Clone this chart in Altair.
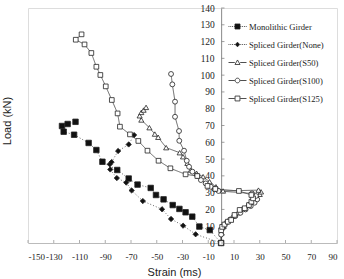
import altair as alt
import pandas as pd

# ---------------- data ----------------
series_names = ["Monolithic Girder", "Spliced Girder(None)", "Spliced Girder(S50)",
                "Spliced Girder(S100)", "Spliced Girder(S125)"]

mono_x = [0, -8.8, -16.9, -22.4, -27.6, -32.4, -37.6, -44.7, -50.6, -54.7, -64.9, -71.8,
          -80.7, -92.2, -96.9, -102.9, -114.2, -122.3, -123.6, -119.2, -113.1]
mono_y = [0, 7.7, 9.8, 15.7, 18.3, 20.3, 22.6, 26.0, 28.6, 32.8, 34.8, 38.4,
          43.5, 48.4, 55.4, 59.6, 64.5, 66.3, 69.7, 70.9, 72.2]

none_x = [0, -19.8, -29.5, -38.9, -45.9, -60.8, -69.5, -73.7, -81.0, -86.1, -86.5, -85.1,
          -80.0, -71.8, -67.6]
none_y = [0, 5.2, 10.3, 14.3, 20.1, 25.0, 31.3, 36.0, 38.7, 43.8, 46.9, 48.2,
          54.8, 58.7, 64.3]

s50_x = [0, 0.5, 2, 5, 9, 13, 17, 21, 25, 28, 30, 31, 29, 1.5, -4, -9, -14, -19, -23.5,
         -26.2, -29.6, -32.2, -42.7, -48.9, -51.5, -55.7, -62.0, -63.3, -62.0, -60.2, -58.3]
s50_y = [0, 6, 10, 13, 16, 18, 20.5, 23, 25, 27, 29, 30.5, 31.5, 31, 33.5, 36.5, 39.5, 41.5, 43.5,
         47.5, 51.4, 53.8, 56.8, 63, 64.9, 68.7, 73.3, 75.8, 77.8, 79.2, 80.8]

s100_x = [0, 0, 1.5, 4, 7, 11, 15, 19, 23, 26, 28, 27, 24, -2, -5, -8, -12, -15.7, -18.4,
          -22.3, -24.9, -26.7, -28.8, -32.5, -32.7, -35.8, -35.8, -37.9, -38.9]
s100_y = [0, 5, 9, 12, 14, 16, 18, 20, 22, 24, 26, 28, 29.5, 31, 32, 33.5, 35.5, 37.5, 39.9,
          42.5, 45.4, 49, 55, 60.9, 66.7, 75.2, 84.2, 94.5, 100.7]

s125_x = [0, 0, 0.8, 2.6, 5.2, 7.8, 10.4, 14.4, 18.3, 21.6, 23.5, 24.8, 23.5, 13.8, -4.5,
          -10.6, -18.5, -27.6, -39.4, -48.6, -57.2, -64.3, -70.8, -78.6, -80.4, -84.9,
          -89.6, -93.8, -96.9, -100.8, -106.1, -112.9, -108.4]
s125_y = [0, 7.6, 9.6, 11, 12.7, 13.7, 16.7, 19.7, 20.7, 22.6, 24.6, 26.6, 28.6, 31.0, 32.2,
          34, 39.9, 40.9, 44.5, 49, 55, 60.8, 64.7, 69.3, 77.2, 85.2,
          93.3, 100.1, 105, 113.2, 118.3, 121.1, 124.3]

x_ticks = [-150, -130, -110, -90, -70, -50, -30, -10, 10, 30, 50, 70, 90]
y_ticks = [0, 10, 20, 30, 40, 50, 60, 70, 80, 90, 100, 110, 120, 130, 140]
x_title = "Strain (ms)"
y_title = "Load (kN)"

# ---------------- tables ----------------
rows = []
for name, xs, ys in zip(series_names,
                        [mono_x, none_x, s50_x, s100_x, s125_x],
                        [mono_y, none_y, s50_y, s100_y, s125_y]):
    for i, (xv, yv) in enumerate(zip(xs, ys)):
        rows.append({"series": name, "strain": xv, "load": yv, "idx": i})
df = pd.DataFrame(rows)
xt = pd.DataFrame({"v": x_ticks})
yt = pd.DataFrame({"v": y_ticks})

W, H = 309, 235
serif = "Liberation Serif"
sans = "Liberation Sans"

xscale = alt.Scale(domain=[-150, 90], nice=False, zero=False)
yscale = alt.Scale(domain=[0, 140], nice=False, zero=False)

X = alt.X("strain:Q", scale=xscale,
          axis=alt.Axis(values=x_ticks, tickCount=len(x_ticks), title=x_title, grid=False,
                        ticks=False, labelOverlap=False, labelExpr="'' + datum.value",
                        labelFont=serif, labelFontSize=9,
                        labelColor="#222", labelPadding=9, domainColor="#bbb",
                        titleFont=sans, titleFontSize=11, titleFontWeight="normal",
                        titleColor="#222", titleX=146, titleY=29,
                        titleBaseline="middle", titleAlign="center"))
Y = alt.Y("load:Q", scale=yscale,
          axis=alt.Axis(values=y_ticks, tickCount=len(y_ticks), title=None, grid=False,
                        ticks=False, labelOverlap=False, offset=-W * 150 / 240,
                        labelFont=serif, labelFontSize=9.5, labelColor="#222",
                        labelPadding=7, domainColor="#888"))

dash_range = [[1, 2], [1, 2], [1, 0], [1, 0], [1, 0]]
shape_range = ["square", "diamond", "triangle-up", "circle", "square"]
fill_range = ["#111", "#111", "white", "white", "white"]
size_range = [30, 22, 26, 22, 26]

lines = alt.Chart(df).mark_line(strokeWidth=0.8, color="#444").encode(
    x=X, y=Y,
    detail="series:N",
    order="idx:Q",
    strokeDash=alt.StrokeDash("series:N", scale=alt.Scale(domain=series_names, range=dash_range),
                              legend=None),
)

points = alt.Chart(df).mark_point(filled=True, stroke="#222", strokeWidth=0.8, opacity=1).encode(
    x="strain:Q", y="load:Q",
    shape=alt.Shape("series:N", scale=alt.Scale(domain=series_names, range=shape_range), legend=None),
    fill=alt.Fill("series:N", scale=alt.Scale(domain=series_names, range=fill_range), legend=None),
    size=alt.Size("series:N", scale=alt.Scale(domain=series_names, range=size_range), legend=None),
)

# legend symbols: line stub + marker in a [-1,1] box
dots = "".join(f"M{x0:.2f},0h0.1" for x0 in [-1.0, -0.8, -0.6, -0.4, 0.32, 0.52, 0.72, 0.92])
solid = "M-1,0H-0.3M0.3,0H1"
leg_paths = [
    dots + "M-0.28,-0.28h0.56v0.56h-0.56z",
    dots + "M0,-0.26L0.24,0L0,0.26L-0.24,0z",
    solid + "M0,-0.28L0.28,0.22L-0.28,0.22z",
    solid + "M0.26,0A0.26,0.26 0 1,1 -0.26,0A0.26,0.26 0 1,1 0.26,0z",
    solid + "M-0.27,-0.27h0.54v0.54h-0.54z",
]
stroke_range = ["#222"] * 5
leg = alt.Legend(title=None, orient="none", legendX=200, legendY=9, symbolSize=324,
                 symbolStrokeWidth=0.8, labelFont=serif,
                 labelFontSize=8.6, labelColor="#222", labelOffset=2, rowPadding=3, padding=0)
legend_layer = alt.Chart(df).transform_filter("false").mark_point(
    filled=True, strokeWidth=0.8, opacity=1).encode(
    x="strain:Q", y="load:Q",
    shape=alt.Shape("series:N", scale=alt.Scale(domain=series_names, range=leg_paths), legend=leg),
    fill=alt.Fill("series:N", scale=alt.Scale(domain=series_names, range=fill_range), legend=leg),
    stroke=alt.Stroke("series:N", scale=alt.Scale(domain=series_names, range=stroke_range), legend=leg),
)

xticks = alt.Chart(xt).mark_rule(color="#999", strokeWidth=0.8).encode(
    x=alt.X("v:Q"), y=alt.value(H), y2=alt.value(H - 3))
yticks = alt.Chart(yt).mark_rule(color="#888", strokeWidth=0.8).encode(
    y=alt.Y("v:Q"), x=alt.datum(0), x2=alt.datum(2.6))

ytitle = alt.Chart(pd.DataFrame({"t": [y_title]})).mark_text(
    angle=270, font=sans, fontSize=11, color="#222").encode(
    text="t:N", x=alt.value(-20), y=alt.value(113))

chart = alt.layer(lines, points, legend_layer, xticks, yticks, ytitle).resolve_scale(
    shape="independent", fill="independent", stroke="independent"
).properties(
    width=W, height=H,
    autosize=alt.AutoSizeParams(type="none"),
    padding={"left": 28, "top": 8, "right": 7, "bottom": 36},
).configure_view(stroke="#c4c4c4", strokeWidth=1).configure_axis(
    labelOverlap=False, labelBound=False, labelFlush=False
).configure(background="white")

chart.save("out.html", embed_options={"renderer": "svg", "actions": False})
